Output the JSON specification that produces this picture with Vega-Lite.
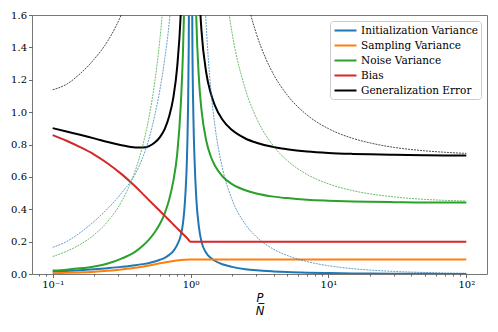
{
"$schema": "https://vega.github.io/schema/vega-lite/v6.json",
"width": 455, "height": 259,
"autosize": {"type": "none"},
"padding": {"left": 32, "top": 15, "right": 11, "bottom": 58},
"background": "white",
"datasets": {
"solid": [
{"s":"Initialization Variance","x":0.1,"y":0.015},{"s":"Initialization Variance","x":0.126,"y":0.019},{"s":"Initialization Variance","x":0.158,"y":0.023},{"s":"Initialization Variance","x":0.2,"y":0.029},{"s":"Initialization Variance","x":0.251,"y":0.036},{"s":"Initialization Variance","x":0.316,"y":0.044},{"s":"Initialization Variance","x":0.398,"y":0.054},{"s":"Initialization Variance","x":0.45,"y":0.061},{"s":"Initialization Variance","x":0.501,"y":0.068},{"s":"Initialization Variance","x":0.55,"y":0.077},{"s":"Initialization Variance","x":0.6,"y":0.088},{"s":"Initialization Variance","x":0.65,"y":0.1},{"s":"Initialization Variance","x":0.7,"y":0.118},{"s":"Initialization Variance","x":0.75,"y":0.142},{"s":"Initialization Variance","x":0.8,"y":0.18},{"s":"Initialization Variance","x":0.85,"y":0.24},{"s":"Initialization Variance","x":0.88,"y":0.31},{"s":"Initialization Variance","x":0.9,"y":0.39},{"s":"Initialization Variance","x":0.92,"y":0.51},{"s":"Initialization Variance","x":0.94,"y":0.69},{"s":"Initialization Variance","x":0.95,"y":0.84},{"s":"Initialization Variance","x":0.96,"y":1.05},{"s":"Initialization Variance","x":0.97,"y":1.4},{"s":"Initialization Variance","x":0.98,"y":2.1},{"s":"Initialization Variance","x":1.02,"y":2.25},{"s":"Initialization Variance","x":1.03,"y":1.5},{"s":"Initialization Variance","x":1.05,"y":0.95},{"s":"Initialization Variance","x":1.07,"y":0.7},{"s":"Initialization Variance","x":1.1,"y":0.47},{"s":"Initialization Variance","x":1.15,"y":0.29},{"s":"Initialization Variance","x":1.2,"y":0.2},{"s":"Initialization Variance","x":1.3,"y":0.13},{"s":"Initialization Variance","x":1.4,"y":0.1},{"s":"Initialization Variance","x":1.5,"y":0.082},{"s":"Initialization Variance","x":1.7,"y":0.06},{"s":"Initialization Variance","x":2,"y":0.044},{"s":"Initialization Variance","x":2.5,"y":0.03},{"s":"Initialization Variance","x":3,"y":0.023},{"s":"Initialization Variance","x":4,"y":0.016},{"s":"Initialization Variance","x":5,"y":0.012},{"s":"Initialization Variance","x":7,"y":0.008},{"s":"Initialization Variance","x":10,"y":0.0055},{"s":"Initialization Variance","x":15,"y":0.0035},{"s":"Initialization Variance","x":20,"y":0.0025},{"s":"Initialization Variance","x":30,"y":0.0016},{"s":"Initialization Variance","x":50,"y":0.001},{"s":"Initialization Variance","x":70,"y":0.0007},{"s":"Initialization Variance","x":100,"y":0.0005},
{"s":"Sampling Variance","x":0.1,"y":0.005},{"s":"Sampling Variance","x":0.126,"y":0.007},{"s":"Sampling Variance","x":0.158,"y":0.01},{"s":"Sampling Variance","x":0.2,"y":0.014},{"s":"Sampling Variance","x":0.251,"y":0.02},{"s":"Sampling Variance","x":0.316,"y":0.028},{"s":"Sampling Variance","x":0.398,"y":0.038},{"s":"Sampling Variance","x":0.501,"y":0.053},{"s":"Sampling Variance","x":0.631,"y":0.07},{"s":"Sampling Variance","x":0.794,"y":0.083},{"s":"Sampling Variance","x":0.9,"y":0.088},{"s":"Sampling Variance","x":1,"y":0.09},{"s":"Sampling Variance","x":1.2,"y":0.09},{"s":"Sampling Variance","x":100,"y":0.09},
{"s":"Noise Variance","x":0.1,"y":0.021},{"s":"Noise Variance","x":0.126,"y":0.027},{"s":"Noise Variance","x":0.158,"y":0.035},{"s":"Noise Variance","x":0.2,"y":0.047},{"s":"Noise Variance","x":0.251,"y":0.065},{"s":"Noise Variance","x":0.316,"y":0.095},{"s":"Noise Variance","x":0.398,"y":0.138},{"s":"Noise Variance","x":0.45,"y":0.174},{"s":"Noise Variance","x":0.501,"y":0.214},{"s":"Noise Variance","x":0.55,"y":0.258},{"s":"Noise Variance","x":0.6,"y":0.31},{"s":"Noise Variance","x":0.65,"y":0.375},{"s":"Noise Variance","x":0.7,"y":0.46},{"s":"Noise Variance","x":0.75,"y":0.575},{"s":"Noise Variance","x":0.8,"y":0.74},{"s":"Noise Variance","x":0.85,"y":1.048},{"s":"Noise Variance","x":0.88,"y":1.357},{"s":"Noise Variance","x":0.9,"y":1.665},{"s":"Noise Variance","x":0.92,"y":2.128},{"s":"Noise Variance","x":1.07,"y":2.08},{"s":"Noise Variance","x":1.1,"y":1.59},{"s":"Noise Variance","x":1.15,"y":1.207},{"s":"Noise Variance","x":1.2,"y":1.015},{"s":"Noise Variance","x":1.3,"y":0.823},{"s":"Noise Variance","x":1.4,"y":0.7275},{"s":"Noise Variance","x":1.5,"y":0.67},{"s":"Noise Variance","x":1.7,"y":0.604},{"s":"Noise Variance","x":2,"y":0.555},{"s":"Noise Variance","x":2.5,"y":0.517},{"s":"Noise Variance","x":3,"y":0.4975},{"s":"Noise Variance","x":4,"y":0.478},{"s":"Noise Variance","x":5,"y":0.469},{"s":"Noise Variance","x":7,"y":0.459},{"s":"Noise Variance","x":10,"y":0.453},{"s":"Noise Variance","x":15,"y":0.448},{"s":"Noise Variance","x":20,"y":0.446},{"s":"Noise Variance","x":30,"y":0.444},{"s":"Noise Variance","x":50,"y":0.442},{"s":"Noise Variance","x":70,"y":0.442},{"s":"Noise Variance","x":100,"y":0.441},
{"s":"Bias","x":0.1,"y":0.858},{"s":"Bias","x":0.126,"y":0.823},{"s":"Bias","x":0.158,"y":0.784},{"s":"Bias","x":0.2,"y":0.738},{"s":"Bias","x":0.251,"y":0.683},{"s":"Bias","x":0.316,"y":0.617},{"s":"Bias","x":0.398,"y":0.54},{"s":"Bias","x":0.45,"y":0.495},{"s":"Bias","x":0.501,"y":0.455},{"s":"Bias","x":0.55,"y":0.421},{"s":"Bias","x":0.6,"y":0.389},{"s":"Bias","x":0.65,"y":0.359},{"s":"Bias","x":0.7,"y":0.332},{"s":"Bias","x":0.75,"y":0.306},{"s":"Bias","x":0.8,"y":0.282},{"s":"Bias","x":0.85,"y":0.26},{"s":"Bias","x":0.9,"y":0.239},{"s":"Bias","x":0.95,"y":0.219},{"s":"Bias","x":1,"y":0.2},{"s":"Bias","x":1.2,"y":0.2},{"s":"Bias","x":100,"y":0.2},
{"s":"Generalization Error","x":0.1,"y":0.901},{"s":"Generalization Error","x":0.126,"y":0.88},{"s":"Generalization Error","x":0.158,"y":0.86},{"s":"Generalization Error","x":0.2,"y":0.838},{"s":"Generalization Error","x":0.251,"y":0.815},{"s":"Generalization Error","x":0.316,"y":0.796},{"s":"Generalization Error","x":0.398,"y":0.782},{"s":"Generalization Error","x":0.45,"y":0.781},{"s":"Generalization Error","x":0.501,"y":0.79},{"s":"Generalization Error","x":0.55,"y":0.812},{"s":"Generalization Error","x":0.6,"y":0.846},{"s":"Generalization Error","x":0.65,"y":0.897},{"s":"Generalization Error","x":0.7,"y":0.975},{"s":"Generalization Error","x":0.75,"y":1.09},{"s":"Generalization Error","x":0.8,"y":1.28},{"s":"Generalization Error","x":0.85,"y":1.62},{"s":"Generalization Error","x":0.88,"y":2.0},{"s":"Generalization Error","x":1.1,"y":2.35},{"s":"Generalization Error","x":1.15,"y":1.787},{"s":"Generalization Error","x":1.2,"y":1.505},{"s":"Generalization Error","x":1.3,"y":1.243},{"s":"Generalization Error","x":1.4,"y":1.118},{"s":"Generalization Error","x":1.5,"y":1.042},{"s":"Generalization Error","x":1.7,"y":0.954},{"s":"Generalization Error","x":2,"y":0.889},{"s":"Generalization Error","x":2.5,"y":0.837},{"s":"Generalization Error","x":3,"y":0.811},{"s":"Generalization Error","x":4,"y":0.784},{"s":"Generalization Error","x":5,"y":0.771},{"s":"Generalization Error","x":7,"y":0.757},{"s":"Generalization Error","x":10,"y":0.748},{"s":"Generalization Error","x":15,"y":0.742},{"s":"Generalization Error","x":20,"y":0.739},{"s":"Generalization Error","x":30,"y":0.736},{"s":"Generalization Error","x":50,"y":0.733},{"s":"Generalization Error","x":70,"y":0.732},{"s":"Generalization Error","x":100,"y":0.732}
],
"dashed": [
{"s":"Initialization Variance","x":0.1,"y":0.165},{"s":"Initialization Variance","x":0.126,"y":0.2},{"s":"Initialization Variance","x":0.158,"y":0.255},{"s":"Initialization Variance","x":0.2,"y":0.325},{"s":"Initialization Variance","x":0.251,"y":0.405},{"s":"Initialization Variance","x":0.316,"y":0.5},{"s":"Initialization Variance","x":0.398,"y":0.62},{"s":"Initialization Variance","x":0.45,"y":0.72},{"s":"Initialization Variance","x":0.501,"y":0.84},{"s":"Initialization Variance","x":0.55,"y":0.98},{"s":"Initialization Variance","x":0.6,"y":1.14},{"s":"Initialization Variance","x":0.65,"y":1.33},{"s":"Initialization Variance","x":0.7,"y":1.55},{"s":"Initialization Variance","x":0.75,"y":1.85},{"s":"Initialization Variance","x":0.8,"y":2.3},{"s":"Initialization Variance","x":1.2,"y":2.3},{"s":"Initialization Variance","x":1.25,"y":1.84},{"s":"Initialization Variance","x":1.3,"y":1.533},{"s":"Initialization Variance","x":1.4,"y":1.15},{"s":"Initialization Variance","x":1.5,"y":0.92},{"s":"Initialization Variance","x":1.7,"y":0.657},{"s":"Initialization Variance","x":2,"y":0.46},{"s":"Initialization Variance","x":2.5,"y":0.307},{"s":"Initialization Variance","x":3,"y":0.23},{"s":"Initialization Variance","x":4,"y":0.153},{"s":"Initialization Variance","x":5,"y":0.115},{"s":"Initialization Variance","x":7,"y":0.0767},{"s":"Initialization Variance","x":10,"y":0.0511},{"s":"Initialization Variance","x":15,"y":0.0329},{"s":"Initialization Variance","x":20,"y":0.0242},{"s":"Initialization Variance","x":30,"y":0.0159},{"s":"Initialization Variance","x":50,"y":0.0094},{"s":"Initialization Variance","x":70,"y":0.0067},{"s":"Initialization Variance","x":100,"y":0.0046},
{"s":"Noise Variance","x":0.1,"y":0.108},{"s":"Noise Variance","x":0.126,"y":0.14},{"s":"Noise Variance","x":0.158,"y":0.182},{"s":"Noise Variance","x":0.2,"y":0.2425},{"s":"Noise Variance","x":0.251,"y":0.325},{"s":"Noise Variance","x":0.316,"y":0.448},{"s":"Noise Variance","x":0.398,"y":0.641},{"s":"Noise Variance","x":0.45,"y":0.794},{"s":"Noise Variance","x":0.501,"y":0.974},{"s":"Noise Variance","x":0.55,"y":1.186},{"s":"Noise Variance","x":0.6,"y":1.455},{"s":"Noise Variance","x":0.65,"y":1.801},{"s":"Noise Variance","x":0.7,"y":2.263},{"s":"Noise Variance","x":1.7,"y":1.94},{"s":"Noise Variance","x":1.8,"y":1.753},{"s":"Noise Variance","x":2,"y":1.49},{"s":"Noise Variance","x":2.5,"y":1.14},{"s":"Noise Variance","x":3,"y":0.965},{"s":"Noise Variance","x":4,"y":0.79},{"s":"Noise Variance","x":5,"y":0.7025},{"s":"Noise Variance","x":7,"y":0.615},{"s":"Noise Variance","x":10,"y":0.557},{"s":"Noise Variance","x":15,"y":0.515},{"s":"Noise Variance","x":20,"y":0.495},{"s":"Noise Variance","x":30,"y":0.476},{"s":"Noise Variance","x":50,"y":0.461},{"s":"Noise Variance","x":70,"y":0.455},{"s":"Noise Variance","x":100,"y":0.451},
{"s":"Generalization Error","x":0.1,"y":1.138},{"s":"Generalization Error","x":0.126,"y":1.172},{"s":"Generalization Error","x":0.158,"y":1.237},{"s":"Generalization Error","x":0.2,"y":1.327},{"s":"Generalization Error","x":0.251,"y":1.44},{"s":"Generalization Error","x":0.316,"y":1.606},{"s":"Generalization Error","x":0.398,"y":1.844},{"s":"Generalization Error","x":2,"y":2.24},{"s":"Generalization Error","x":2.5,"y":1.737},{"s":"Generalization Error","x":3,"y":1.485},{"s":"Generalization Error","x":3.5,"y":1.334},{"s":"Generalization Error","x":4,"y":1.233},{"s":"Generalization Error","x":5,"y":1.108},{"s":"Generalization Error","x":7,"y":0.982},{"s":"Generalization Error","x":10,"y":0.898},{"s":"Generalization Error","x":15,"y":0.838},{"s":"Generalization Error","x":20,"y":0.81},{"s":"Generalization Error","x":30,"y":0.782},{"s":"Generalization Error","x":50,"y":0.761},{"s":"Generalization Error","x":70,"y":0.752},{"s":"Generalization Error","x":100,"y":0.745}
]
},
"layer": [
{
"data": {"name": "solid"},
"mark": {"type": "line", "clip": true, "strokeWidth": 2, "interpolate": "monotone"},
"encoding": {
"x": {"field": "x", "type": "quantitative",
 "scale": {"type": "log", "domain": [0.0708, 141.3], "nice": false},
 "axis": {"orient": "bottom", "values": [0.1, 1, 10, 100], "labelExpr": "datum.value < 0.5 ? '10⁻¹' : datum.value < 5 ? '10⁰' : datum.value < 50 ? '10¹' : '10²'", "tickSize": 3.5, "labelPadding": 2, "labelFont": "DejaVu Serif, Liberation Serif, serif", "labelFontSize": 10,
  "title": ["P", "N̅"], "titleFont": "DejaVu Sans, sans-serif", "titleFontStyle": "italic", "titleFontWeight": "normal", "titleFontSize": 11.5, "titleLineHeight": 13, "titlePadding": 3, "titleColor": "#000"}},
"y": {"field": "y", "type": "quantitative",
 "scale": {"domain": [0, 1.6], "nice": false},
 "axis": {"values": [0, 0.2, 0.4, 0.6, 0.8, 1.0, 1.2, 1.4, 1.6], "format": ".1f", "title": null, "tickSize": 3.5, "labelPadding": 2, "labelFont": "DejaVu Serif, Liberation Serif, serif", "labelFontSize": 10}},
"color": {"field": "s", "type": "nominal",
 "scale": {"domain": ["Initialization Variance", "Sampling Variance", "Noise Variance", "Bias", "Generalization Error"], "range": ["#1f77b4", "#ff7f0e", "#2ca02c", "#d62728", "#000000"]},
 "legend": {"title": null, "orient": "top-right", "offset": 6, "symbolType": "M-2,0H2", "symbolSize": 121, "symbolStrokeWidth": 2, "symbolOffset": 6, "labelFont": "DejaVu Serif, Liberation Serif, serif", "labelFontSize": 10.5, "labelColor": "#000", "labelOffset": 9, "fillColor": "#ffffff", "strokeColor": "#cccccc", "cornerRadius": 3, "padding": 3, "rowPadding": 3}}
}
},
{
"data": {"name": "dashed"},
"mark": {"type": "line", "clip": true, "strokeWidth": 0.7, "strokeDash": [2, 1], "interpolate": "monotone"},
"encoding": {
"x": {"field": "x", "type": "quantitative",
 "scale": {"type": "log", "domain": [0.0708, 141.3], "nice": false},
 "axis": {"orient": "bottom", "values": [0.08, 0.09, 0.2, 0.3, 0.4, 0.5, 0.6, 0.7, 0.8, 0.9, 2, 3, 4, 5, 6, 7, 8, 9, 20, 30, 40, 50, 60, 70, 80, 90], "labels": false, "tickSize": 2, "title": null, "domain": false}},
"y": {"field": "y", "type": "quantitative",
 "scale": {"domain": [0, 1.6], "nice": false},
 "axis": {"values": [0, 0.2, 0.4, 0.6, 0.8, 1.0, 1.2, 1.4, 1.6], "format": ".1f", "title": null, "tickSize": 3.5, "labelPadding": 2, "labelFont": "DejaVu Serif, Liberation Serif, serif", "labelFontSize": 10}},
"color": {"field": "s", "type": "nominal", "legend": null}
}
}
],
"resolve": {"axis": {"x": "independent"}},
"config": {
"font": "DejaVu Serif, Liberation Serif, serif",
"view": {"stroke": "#777777", "strokeWidth": 1},
"axis": {"labelFont": "DejaVu Serif, Liberation Serif, serif", "labelFontSize": 10, "labelColor": "#000", "tickColor": "#444", "tickWidth": 0.8, "domain": false, "grid": false}
}
}
